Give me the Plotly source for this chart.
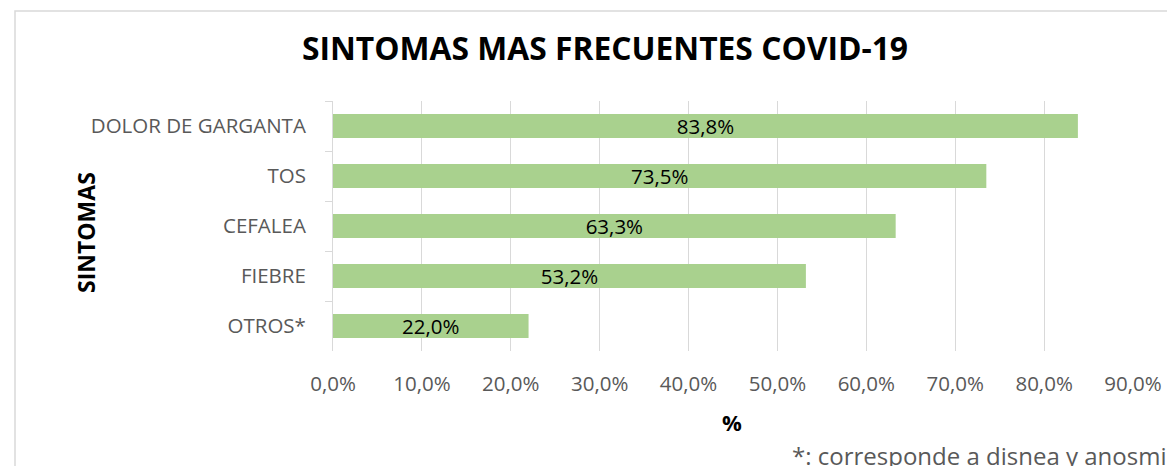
import plotly.graph_objects as go

# datos
sintomas = ["DOLOR DE GARGANTA", "TOS", "CEFALEA", "FIEBRE", "OTROS*"]
porcentajes = [0.838, 0.735, 0.633, 0.532, 0.220]
ticks = [0.0, 0.1, 0.2, 0.3, 0.4, 0.5, 0.6, 0.7, 0.8, 0.9]

# la pagina deja 8px de margen en el body
OFF = 8
W, H = 1175 - OFF, 466 - OFF
L, T = 333 - OFF, 101 - OFF
R = W - (1133 - OFF)
B = H - (351 - OFF)
FONT = "Open Sans"


def px_x(px):
    return (px - OFF - L) / (W - L - R)


def px_y(py):
    return (H - B - (py - OFF)) / (H - T - B)


fig = go.Figure(
    go.Bar(
        y=sintomas,
        x=porcentajes,
        orientation="h",
        marker=dict(color="#A9D18E", line=dict(width=0)),
        width=0.48,
        texttemplate="%{x:.1%}",
        textposition="inside",
        insidetextanchor="middle",
        constraintext="none",
        textfont=dict(family=FONT, size=20.5, color="#000000"),
        cliponaxis=False,
    )
)

fig.update_layout(
    width=W,
    height=H,
    margin=dict(l=L, r=R, t=T, b=B),
    paper_bgcolor="white",
    plot_bgcolor="white",
    separators=",.",
    showlegend=False,
    title=dict(
        text="<b>SINTOMAS MAS FRECUENTES COVID-19</b>",
        font=dict(family=FONT, size=31.8, color="#000000"),
        x=px_x(605),
        xref="paper",
        xanchor="center",
        y=1 - (49 - OFF) / H,
        yanchor="middle",
    ),
    font=dict(family=FONT, size=20.5, color="#595959"),
)

fig.update_xaxes(
    range=[0, 0.9],
    tickvals=ticks,
    tickformat=".1%",
    showgrid=True,
    gridcolor="#d9d9d9",
    gridwidth=1,
    zeroline=False,
    showline=False,
    ticks="",
    ticklabelstandoff=18,
    tickfont=dict(family=FONT, size=20.5, color="#595959"),
)

fig.update_yaxes(
    autorange="reversed",
    showgrid=False,
    showline=True,
    linecolor="#d9d9d9",
    linewidth=1,
    ticks="outside",
    tickson="boundaries",
    ticklen=7,
    tickcolor="#d9d9d9",
    ticklabelstandoff=22,
    tickfont=dict(family=FONT, size=20.5, color="#595959"),
)

fig.add_annotation(
    text="<b>SINTOMAS</b>",
    x=px_x(86),
    y=px_y(232),
    xref="paper",
    yref="paper",
    xanchor="center",
    yanchor="middle",
    textangle=-90,
    showarrow=False,
    font=dict(family=FONT, size=23, color="#000000"),
)
fig.add_annotation(
    text="<b>%</b>",
    x=px_x(732),
    y=px_y(422),
    xref="paper",
    yref="paper",
    xanchor="center",
    yanchor="middle",
    showarrow=False,
    font=dict(family=FONT, size=22, color="#000000"),
)
fig.add_annotation(
    text="*: corresponde a disnea y anosmia",
    x=px_x(790),
    y=px_y(455),
    xref="paper",
    yref="paper",
    xanchor="left",
    yanchor="middle",
    showarrow=False,
    font=dict(family=FONT, size=24, color="#595959"),
)

# marco del grafico
fig.add_shape(
    type="rect",
    xref="paper",
    yref="paper",
    x0=px_x(15),
    y0=px_y(520),
    x1=px_x(1240),
    y1=px_y(11),
    line=dict(color="#d9d9d9", width=1.5),
    layer="below",
)

fig.write_html("out.html")
